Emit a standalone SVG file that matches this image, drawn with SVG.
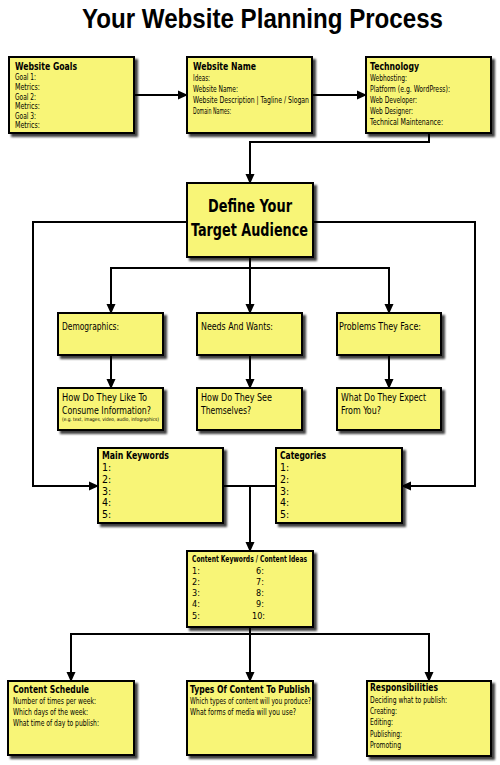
<svg xmlns="http://www.w3.org/2000/svg" width="500" height="765" viewBox="0 0 500 765">
<defs>
<filter id="sh" x="-10%" y="-10%" width="130%" height="130%">
<feDropShadow dx="3" dy="3" stdDeviation="1.2" flood-color="#000" flood-opacity="0.75"/>
</filter>
<marker id="ah" markerWidth="10" markerHeight="10" refX="9" refY="5" orient="auto" markerUnits="userSpaceOnUse">
<path d="M0,0.5 L10,5 L0,9.5 Z" fill="#000"/>
</marker>
</defs>
<style>
.box{fill:#f8f577;stroke:#000;stroke-width:2;filter:url(#sh)}
text{font-family:"DejaVu Sans Condensed","DejaVu Sans","Liberation Sans",sans-serif;font-stretch:condensed;fill:#000}
.title{font-family:"Liberation Sans",Arial,sans-serif;font-weight:bold;font-size:27px}
.t{font-weight:bold;font-size:11px}
.s{font-size:9px}
.m{font-size:10.5px}
.c{stroke:#000;stroke-width:2;fill:none}
</style>
<text class="title" x="262.5" y="28" text-anchor="middle" textLength="361" lengthAdjust="spacingAndGlyphs">Your Website Planning Process</text>
<g id="connectors">
<line class="c" x1="135" y1="95" x2="187" y2="95" marker-end="url(#ah)"/>
<line class="c" x1="313" y1="95" x2="366" y2="95" marker-end="url(#ah)"/>
<polyline class="c" points="429,133 429,142 250,142 250,183" marker-end="url(#ah)"/>
<polyline class="c" points="187,222 33,222 33,486 98,486" marker-end="url(#ah)"/>
<polyline class="c" points="313,222 475,222 475,486 402,486" marker-end="url(#ah)"/>
<line class="c" x1="250" y1="257" x2="250" y2="268"/>
<line class="c" x1="110" y1="268" x2="390" y2="268"/>
<line class="c" x1="111" y1="268" x2="111" y2="313" marker-end="url(#ah)"/>
<line class="c" x1="250" y1="268" x2="250" y2="313" marker-end="url(#ah)"/>
<line class="c" x1="389" y1="268" x2="389" y2="313" marker-end="url(#ah)"/>
<line class="c" x1="111" y1="355" x2="111" y2="388" marker-end="url(#ah)"/>
<line class="c" x1="250" y1="355" x2="250" y2="388" marker-end="url(#ah)"/>
<line class="c" x1="389" y1="355" x2="389" y2="388" marker-end="url(#ah)"/>
<line class="c" x1="223" y1="486" x2="276" y2="486"/>
<line class="c" x1="250" y1="486" x2="250" y2="551" marker-end="url(#ah)"/>
<line class="c" x1="250" y1="627" x2="250" y2="634"/>
<line class="c" x1="70" y1="634" x2="430" y2="634"/>
<line class="c" x1="71" y1="634" x2="71" y2="681" marker-end="url(#ah)"/>
<line class="c" x1="250" y1="634" x2="250" y2="681" marker-end="url(#ah)"/>
<line class="c" x1="429" y1="634" x2="429" y2="681" marker-end="url(#ah)"/>
</g>
<g id="goals">
<rect class="box" x="9" y="57" width="125" height="76"/>
<text class="t" x="15" y="70" textLength="62" lengthAdjust="spacingAndGlyphs">Website Goals</text>
<text class="s" x="15" y="80" textLength="21" lengthAdjust="spacingAndGlyphs">Goal 1:</text>
<text class="s" x="15" y="90" textLength="25" lengthAdjust="spacingAndGlyphs">Metrics:</text>
<text class="s" x="15" y="99.5" textLength="21" lengthAdjust="spacingAndGlyphs">Goal 2:</text>
<text class="s" x="15" y="109" textLength="25" lengthAdjust="spacingAndGlyphs">Metrics:</text>
<text class="s" x="15" y="118.5" textLength="21" lengthAdjust="spacingAndGlyphs">Goal 3:</text>
<text class="s" x="15" y="128" textLength="25" lengthAdjust="spacingAndGlyphs">Metrics:</text>
</g>
<g id="name">
<rect class="box" x="187" y="57" width="125" height="76"/>
<text class="t" x="193" y="70" textLength="63" lengthAdjust="spacingAndGlyphs">Website Name</text>
<text class="s" x="193" y="81" textLength="17" lengthAdjust="spacingAndGlyphs">Ideas:</text>
<text class="s" x="193" y="92" textLength="45" lengthAdjust="spacingAndGlyphs">Website Name:</text>
<text class="s" x="193" y="102.5" textLength="116" lengthAdjust="spacingAndGlyphs">Website Description | Tagline / Slogan</text>
<text class="s" x="193" y="113.5" textLength="38" lengthAdjust="spacingAndGlyphs">Domain Names:</text>
</g>
<g id="technology">
<rect class="box" x="366" y="57" width="125" height="76"/>
<text class="t" x="370" y="70" textLength="49" lengthAdjust="spacingAndGlyphs">Technology</text>
<text class="s" x="370" y="81" textLength="37" lengthAdjust="spacingAndGlyphs">Webhosting:</text>
<text class="s" x="370" y="92" textLength="80" lengthAdjust="spacingAndGlyphs">Platform (e.g. WordPress):</text>
<text class="s" x="370" y="103" textLength="47" lengthAdjust="spacingAndGlyphs">Web Developer:</text>
<text class="s" x="370" y="114" textLength="43" lengthAdjust="spacingAndGlyphs">Web Designer:</text>
<text class="s" x="370" y="124.5" textLength="73" lengthAdjust="spacingAndGlyphs">Technical Maintenance:</text>
</g>
<g id="define">
<rect class="box" x="187" y="183" width="126" height="74"/>
<text x="208" y="211.5" font-size="18" font-weight="bold" textLength="84" lengthAdjust="spacingAndGlyphs">Define Your</text>
<text x="191" y="236" font-size="18" font-weight="bold" textLength="117" lengthAdjust="spacingAndGlyphs">Target Audience</text>
</g>
<g id="demographics">
<rect class="box" x="58" y="313" width="105" height="42"/>
<text class="m" x="62" y="330" textLength="57" lengthAdjust="spacingAndGlyphs">Demographics:</text>
</g>
<g id="needs">
<rect class="box" x="197" y="313" width="105" height="42"/>
<text class="m" x="201" y="330" textLength="72" lengthAdjust="spacingAndGlyphs">Needs And Wants:</text>
</g>
<g id="problems">
<rect class="box" x="337" y="313" width="104" height="42"/>
<text class="m" x="339" y="330" textLength="82" lengthAdjust="spacingAndGlyphs">Problems They Face:</text>
</g>
<g id="consume">
<rect class="box" x="58" y="388" width="105" height="42"/>
<text class="m" x="62" y="400.5" textLength="85" lengthAdjust="spacingAndGlyphs">How Do They Like To</text>
<text class="m" x="62" y="414" textLength="89" lengthAdjust="spacingAndGlyphs">Consume Information?</text>
<text x="62" y="421" font-size="5" textLength="97" lengthAdjust="spacingAndGlyphs">(e.g. text, images, video, audio, infographics)</text>
</g>
<g id="see">
<rect class="box" x="197" y="388" width="105" height="42"/>
<text class="m" x="201" y="400.5" textLength="71" lengthAdjust="spacingAndGlyphs">How Do They See</text>
<text class="m" x="201" y="414" textLength="50" lengthAdjust="spacingAndGlyphs">Themselves?</text>
</g>
<g id="expect">
<rect class="box" x="337" y="388" width="104" height="42"/>
<text class="m" x="341" y="400.5" textLength="85" lengthAdjust="spacingAndGlyphs">What Do They Expect</text>
<text class="m" x="341" y="414" textLength="40" lengthAdjust="spacingAndGlyphs">From You?</text>
</g>
<g id="keywords">
<rect class="box" x="98" y="448" width="125" height="75"/>
<text class="t" x="102" y="459" textLength="67" lengthAdjust="spacingAndGlyphs">Main Keywords</text>
<text class="m" x="102" y="471">1:</text>
<text class="m" x="102" y="483">2:</text>
<text class="m" x="102" y="494.5">3:</text>
<text class="m" x="102" y="506">4:</text>
<text class="m" x="102" y="517.5">5:</text>
</g>
<g id="categories">
<rect class="box" x="276" y="448" width="126" height="75"/>
<text class="t" x="280" y="459" textLength="46" lengthAdjust="spacingAndGlyphs">Categories</text>
<text class="m" x="280" y="471">1:</text>
<text class="m" x="280" y="483">2:</text>
<text class="m" x="280" y="494.5">3:</text>
<text class="m" x="280" y="506">4:</text>
<text class="m" x="280" y="517.5">5:</text>
</g>
<g id="ideas">
<rect class="box" x="187" y="551" width="126" height="76"/>
<text x="192" y="561.5" font-size="8.5" font-weight="bold" textLength="115" lengthAdjust="spacingAndGlyphs">Content Keywords / Content Ideas</text>
<text class="s" x="192" y="573.5">1:</text>
<text class="s" x="192" y="584.5">2:</text>
<text class="s" x="192" y="595.5">3:</text>
<text class="s" x="192" y="606.5">4:</text>
<text class="s" x="192" y="618.5">5:</text>
<text class="s" x="256" y="573.5">6:</text>
<text class="s" x="256" y="584.5">7:</text>
<text class="s" x="256" y="595.5">8:</text>
<text class="s" x="256" y="606.5">9:</text>
<text class="s" x="252" y="618.5">10:</text>
</g>
<g id="schedule">
<rect class="box" x="8" y="681" width="126" height="74"/>
<text class="t" x="13" y="693" textLength="76" lengthAdjust="spacingAndGlyphs">Content Schedule</text>
<text class="s" x="13" y="704" textLength="83" lengthAdjust="spacingAndGlyphs">Number of times per week:</text>
<text class="s" x="13" y="715" textLength="75" lengthAdjust="spacingAndGlyphs">Which days of the week:</text>
<text class="s" x="13" y="725.5" textLength="86" lengthAdjust="spacingAndGlyphs">What time of day to publish:</text>
</g>
<g id="types">
<rect class="box" x="187" y="681" width="126" height="74"/>
<text class="t" x="190" y="693" textLength="120" lengthAdjust="spacingAndGlyphs">Types Of Content To Publish</text>
<text class="s" x="190" y="704" textLength="121" lengthAdjust="spacingAndGlyphs">Which types of content will you produce?</text>
<text class="s" x="190" y="715" textLength="106" lengthAdjust="spacingAndGlyphs">What forms of media will you use?</text>
</g>
<g id="responsibilities">
<rect class="box" x="367" y="681" width="124" height="75"/>
<text class="t" x="370" y="691" textLength="68" lengthAdjust="spacingAndGlyphs">Responsibilities</text>
<text class="s" x="370" y="702.5" textLength="77" lengthAdjust="spacingAndGlyphs">Deciding what to publish:</text>
<text class="s" x="370" y="714" textLength="27" lengthAdjust="spacingAndGlyphs">Creating:</text>
<text class="s" x="370" y="725" textLength="23" lengthAdjust="spacingAndGlyphs">Editing:</text>
<text class="s" x="370" y="736.5" textLength="32" lengthAdjust="spacingAndGlyphs">Publishing:</text>
<text class="s" x="370" y="748" textLength="31" lengthAdjust="spacingAndGlyphs">Promoting</text>
</g>
</svg>
